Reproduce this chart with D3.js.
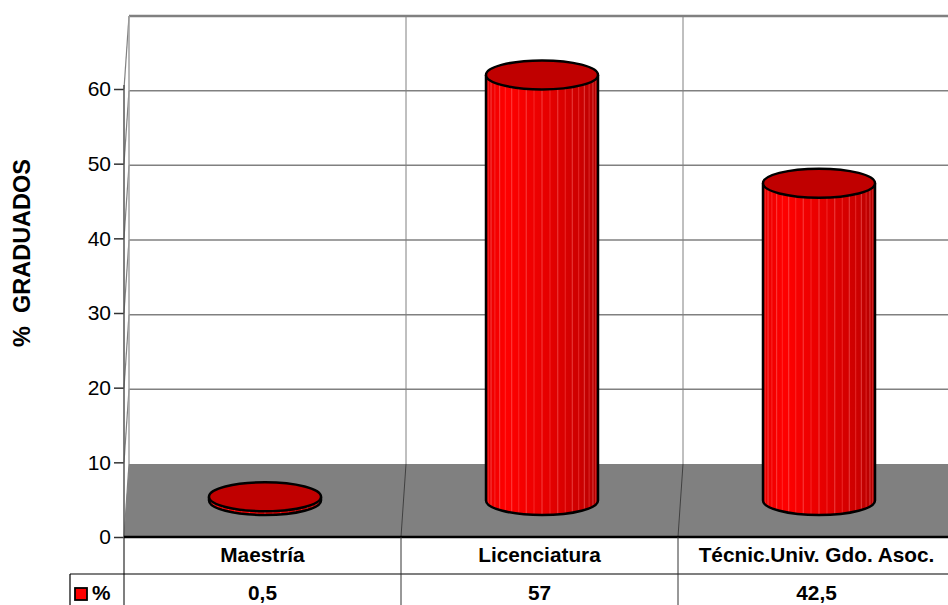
<!DOCTYPE html>
<html>
<head>
<meta charset="utf-8">
<script src="https://cdn.jsdelivr.net/npm/d3@7"></script>
<style>
  html, body { margin: 0; padding: 0; background: #fff; }
  svg { display: block; font-family: Arial, "Liberation Sans", sans-serif; }
</style>
</head>
<body>
<svg id="chart" width="948" height="605"></svg>
<script>
// Distribution of graduates by degree level
const categories = ["Maestría", "Licenciatura", "Técnic.Univ. Gdo. Asoc."];
const values = [0.5, 57, 42.5];
const valueLabels = ["0,5", "57", "42,5"];
const yTicks = [0, 10, 20, 30, 40, 50, 60];
const seriesName = "%";
const axisTitle = "% GRADUADOS";

const W = 948, H = 605;
const svg = d3.select("#chart");

// front plane scales; the back wall is shifted by the chart depth
const y = d3.scaleLinear().domain([0, 60]).range([537, 89]);
const x = d3.scaleBand().domain(categories).range([124, 955]);
const depth = { dx: 5, dy: -73 };
const mid = { dx: depth.dx / 2, dy: depth.dy / 2 };
const grid = "#808080";

// side gradient for the cylinders
const defs = svg.append("defs");
const grad = defs.append("linearGradient").attr("id", "cylSide")
  .attr("x1", "0").attr("x2", "1").attr("y1", "0").attr("y2", "0");
[[0, "#e80000"], [0.18, "#ff0000"], [0.55, "#e60000"], [0.85, "#cc0000"], [1, "#b00000"]]
  .forEach(([o, c]) => grad.append("stop").attr("offset", o).attr("stop-color", c));

const xb0 = x.range()[0] + depth.dx, xb1 = x.range()[1] + depth.dx;
const yTop = y(60) + depth.dy, yBack = y(0) + depth.dy;

// back wall
svg.append("rect").attr("x", xb0).attr("y", yTop)
  .attr("width", xb1 - xb0).attr("height", yBack - yTop).attr("fill", "#fff");

// back wall gridlines
svg.append("g").selectAll("line").data(yTicks.filter(t => t > 0)).join("line")
  .attr("x1", xb0).attr("x2", W)
  .attr("y1", d => y(d) + depth.dy).attr("y2", d => y(d) + depth.dy)
  .attr("stroke", grid).attr("stroke-width", d => d === 60 ? 2.5 : 1.5);

// category dividers on the back wall
svg.append("g").selectAll("line").data(categories.slice(1)).join("line")
  .attr("x1", d => x(d) + depth.dx).attr("x2", d => x(d) + depth.dx)
  .attr("y1", yTop).attr("y2", yBack)
  .attr("stroke", grid).attr("stroke-width", 1);

// left side wall
svg.append("path")
  .attr("d", `M${x.range()[0]},${y(60)}L${xb0},${yTop}L${xb0},${yBack}L${x.range()[0]},${y(0)}Z`)
  .attr("fill", "#fff");
svg.append("g").selectAll("line").data(yTicks).join("line")
  .attr("x1", xb0).attr("y1", d => y(d) + depth.dy)
  .attr("x2", x.range()[0]).attr("y2", d => y(d))
  .attr("stroke", grid).attr("stroke-width", 1.2);
svg.append("line").attr("x1", xb0).attr("x2", xb0).attr("y1", yTop).attr("y2", yBack)
  .attr("stroke", "#a0a0a0").attr("stroke-width", 1.5);

// floor
svg.append("path")
  .attr("d", `M${xb0},${yBack}L${xb1},${yBack}L${x.range()[1]},${y(0)}L${x.range()[0]},${y(0)}Z`)
  .attr("fill", "#808080");
svg.append("g").selectAll("line").data(categories.slice(1)).join("line")
  .attr("x1", d => x(d) + depth.dx).attr("y1", yBack)
  .attr("x2", d => x(d)).attr("y2", y(0))
  .attr("stroke", "#404040").attr("stroke-width", 1);

// cylinders
const rx = 56, ry = 14.5;
const bars = svg.append("g").selectAll("g").data(categories.map((c, i) => ({ c, v: values[i] })))
  .join("g");

bars.each(function (d) {
  const g = d3.select(this);
  const cx = x(d.c) + x.bandwidth() / 2 + mid.dx;
  const yb = y(0) + mid.dy;
  const yt = y(d.v) + mid.dy;
  g.append("path")
    .attr("d", `M${cx - rx},${yt}L${cx - rx},${yb}A${rx},${ry} 0 0 0 ${cx + rx},${yb}L${cx + rx},${yt}Z`)
    .attr("fill", "url(#cylSide)");
  // facet edges of the cylinder surface
  const facets = d3.range(1, 22).map(k => k * Math.PI / 22);
  g.append("g").selectAll("line").data(facets).join("line")
    .attr("x1", a => cx - rx * Math.cos(a)).attr("x2", a => cx - rx * Math.cos(a))
    .attr("y1", yt).attr("y2", a => yb + ry * Math.sin(a))
    .attr("stroke", (a, k) => k % 2 === 0 ? "#ff8080" : "#ff5050")
    .attr("stroke-opacity", 0.5).attr("stroke-width", 1);
  g.append("path")
    .attr("d", `M${cx - rx},${yt}L${cx - rx},${yb}A${rx},${ry} 0 0 0 ${cx + rx},${yb}L${cx + rx},${yt}`)
    .attr("fill", "none").attr("stroke", "#000").attr("stroke-width", 2.5);
  g.append("ellipse").attr("cx", cx).attr("cy", yt).attr("rx", rx).attr("ry", ry)
    .attr("fill", "#c00000").attr("stroke", "#000").attr("stroke-width", 2.5);
});

// value axis
const axis = svg.append("g").attr("transform", `translate(${x.range()[0]},0)`)
  .call(d3.axisLeft(y).tickValues(yTicks).tickSize(10).tickSizeOuter(0).tickPadding(3));
axis.select(".domain").remove();
axis.selectAll(".tick line").attr("stroke", "#333").attr("stroke-width", 1.5);
axis.selectAll(".tick text").attr("font-size", 21).attr("fill", "#000")
  .attr("font-family", "Arial, 'Liberation Sans', sans-serif");
svg.append("line").attr("x1", x.range()[0]).attr("x2", x.range()[0])
  .attr("y1", y(60) - 4).attr("y2", H)
  .attr("stroke", "#555").attr("stroke-width", 1.5);

// data table
svg.append("line").attr("x1", x.range()[0]).attr("x2", W).attr("y1", y(0)).attr("y2", y(0))
  .attr("stroke", "#000").attr("stroke-width", 2.5);
const rowLine = 574;
svg.append("line").attr("x1", 70).attr("x2", W).attr("y1", rowLine).attr("y2", rowLine)
  .attr("stroke", "#000").attr("stroke-width", 1.2);
svg.append("line").attr("x1", 70).attr("x2", 70).attr("y1", rowLine).attr("y2", H)
  .attr("stroke", "#000").attr("stroke-width", 1.2);
svg.append("g").selectAll("line").data(categories.slice(1)).join("line")
  .attr("x1", d => x(d)).attr("x2", d => x(d)).attr("y1", y(0)).attr("y2", H)
  .attr("stroke", "#333").attr("stroke-width", 1);

svg.append("g").selectAll("text").data(categories).join("text")
  .attr("x", d => x(d) + x.bandwidth() / 2).attr("y", 562)
  .attr("text-anchor", "middle").attr("font-size", 20.8).attr("font-weight", "bold")
  .text(d => d);
svg.append("g").selectAll("text").data(valueLabels).join("text")
  .attr("x", (d, i) => x(categories[i]) + x.bandwidth() / 2).attr("y", 600)
  .attr("text-anchor", "middle").attr("font-size", 20.8).attr("font-weight", "bold")
  .text(d => d);

// legend key in the table
svg.append("rect").attr("x", 75).attr("y", 588).attr("width", 12).attr("height", 12)
  .attr("fill", "#ff0000").attr("stroke", "#000").attr("stroke-width", 1.8);
svg.append("text").attr("x", 92).attr("y", 600).attr("font-size", 20.8).attr("font-weight", "bold")
  .text(seriesName);

// axis title
svg.append("text").attr("transform", "translate(22,253) rotate(-90)")
  .attr("text-anchor", "middle").attr("dominant-baseline", "central")
  .attr("font-size", 23.5).attr("font-weight", "bold").attr("xml:space", "preserve")
  .text(axisTitle.replace(" ", "  "));
</script>
</body>
</html>
